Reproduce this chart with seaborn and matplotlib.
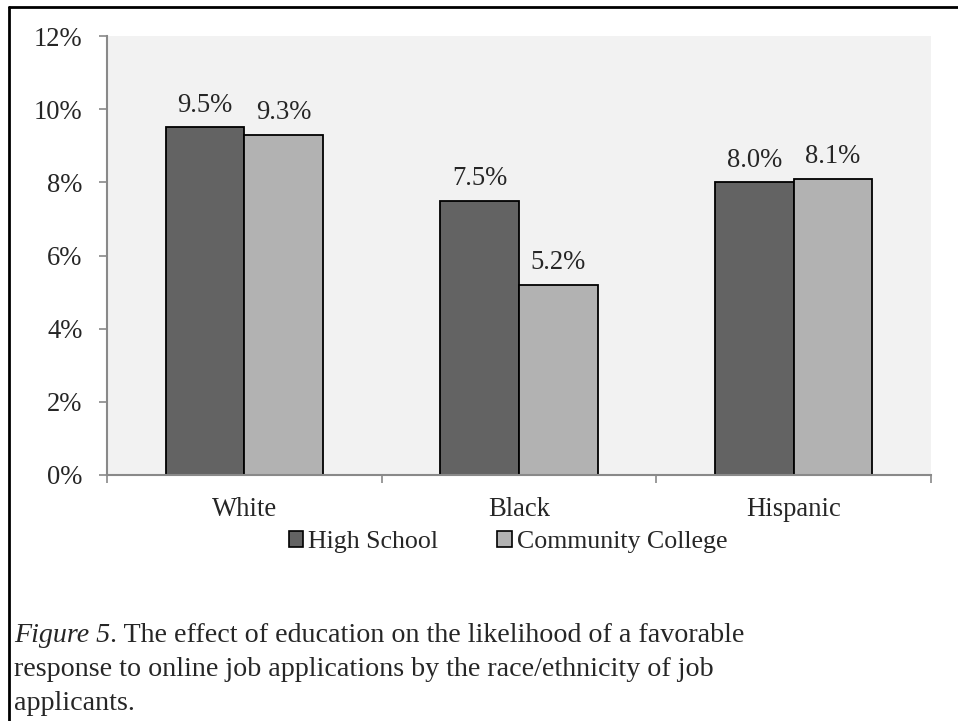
import pandas as pd
import numpy as np
import matplotlib.pyplot as plt
import seaborn as sns
from matplotlib.patches import Patch
from matplotlib.lines import Line2D

# data
races = ['White', 'Black', 'Hispanic']
high_school = [9.5, 7.5, 8.0]
community_college = [9.3, 5.2, 8.1]
groups = ['High School', 'Community College']
colors = ['#636363', '#b2b2b2']
yticks = [0, 2, 4, 6, 8, 10, 12]

df = pd.DataFrame({
    'Race': races * 2,
    'Education': [groups[0]] * 3 + [groups[1]] * 3,
    'Rate': high_school + community_college,
})

sns.set_style('white')
plt.rcParams['font.family'] = ['Liberation Serif', 'DejaVu Serif']

fig = plt.figure(figsize=(9.58, 7.21), dpi=100)
W, H = 958, 721
ax = fig.add_axes([107 / W, 1 - 475 / H, 824 / W, 439 / H])
ax.set_facecolor('#f2f2f2')

sns.barplot(data=df, x='Race', y='Rate', hue='Education', hue_order=groups,
            palette=colors, edgecolor='black', linewidth=1.3, width=0.572,
            gap=0, ax=ax, legend=False)

fs = 19.2
for cont in ax.containers:
    ax.bar_label(cont, labels=[f'{v:.1f}%' for v in cont.datavalues],
                 padding=7, fontsize=fs)

ax.set_ylim(0, 12)
ax.set_xlim(-0.5, 2.5)
ax.set_yticks(yticks)
ax.set_yticklabels([f'{t}%' for t in yticks])
ax.set_xlabel('')
ax.set_ylabel('')

for s in ['top', 'right']:
    ax.spines[s].set_visible(False)
for s in ['left', 'bottom']:
    ax.spines[s].set_color('#898989')
    ax.spines[s].set_linewidth(1.5)

ax.tick_params(axis='y', which='major', length=5.5, width=1.2, color='#898989',
               pad=12, labelsize=fs, left=True, direction='out')
ax.tick_params(axis='x', which='major', length=0, pad=16, labelsize=fs)
ax.set_xticks([-0.5, 0.5, 1.5, 2.5], minor=True)
ax.tick_params(axis='x', which='minor', length=6, width=1.2, color='#898989',
               bottom=True, direction='out')

handles = [Patch(facecolor=c, edgecolor='black', linewidth=1.2) for c in colors]
fig.legend(handles, groups, loc='center', bbox_to_anchor=(508 / W, 1 - 542 / H),
           ncol=2, frameon=False, fontsize=18.6, handlelength=0.55,
           handleheight=0.55, handletextpad=0.2, columnspacing=2.3)

# frame lines of the figure box
fig.add_artist(Line2D([9 / W, 1], [1 - 7 / H, 1 - 7 / H], color='black',
                      linewidth=2, transform=fig.transFigure))
fig.add_artist(Line2D([9 / W, 9 / W], [0, 1 - 7 / H], color='black',
                      linewidth=2, transform=fig.transFigure))

# caption
cap_size = 20.2
t1 = fig.text(14 / W, 1 - 642 / H, 'Figure 5', fontsize=cap_size,
              style='italic', va='baseline')
ax.annotate('. The effect of education on the likelihood of a favorable',
            xy=(1, 0), xycoords=t1, fontsize=cap_size, va='bottom',
            annotation_clip=False)
fig.text(14 / W, 1 - 676 / H,
         'response to online job applications by the race/ethnicity of job',
         fontsize=cap_size, va='baseline')
fig.text(14 / W, 1 - 710 / H, 'applicants.', fontsize=cap_size, va='baseline')

fig.savefig('out.png', dpi=100)
